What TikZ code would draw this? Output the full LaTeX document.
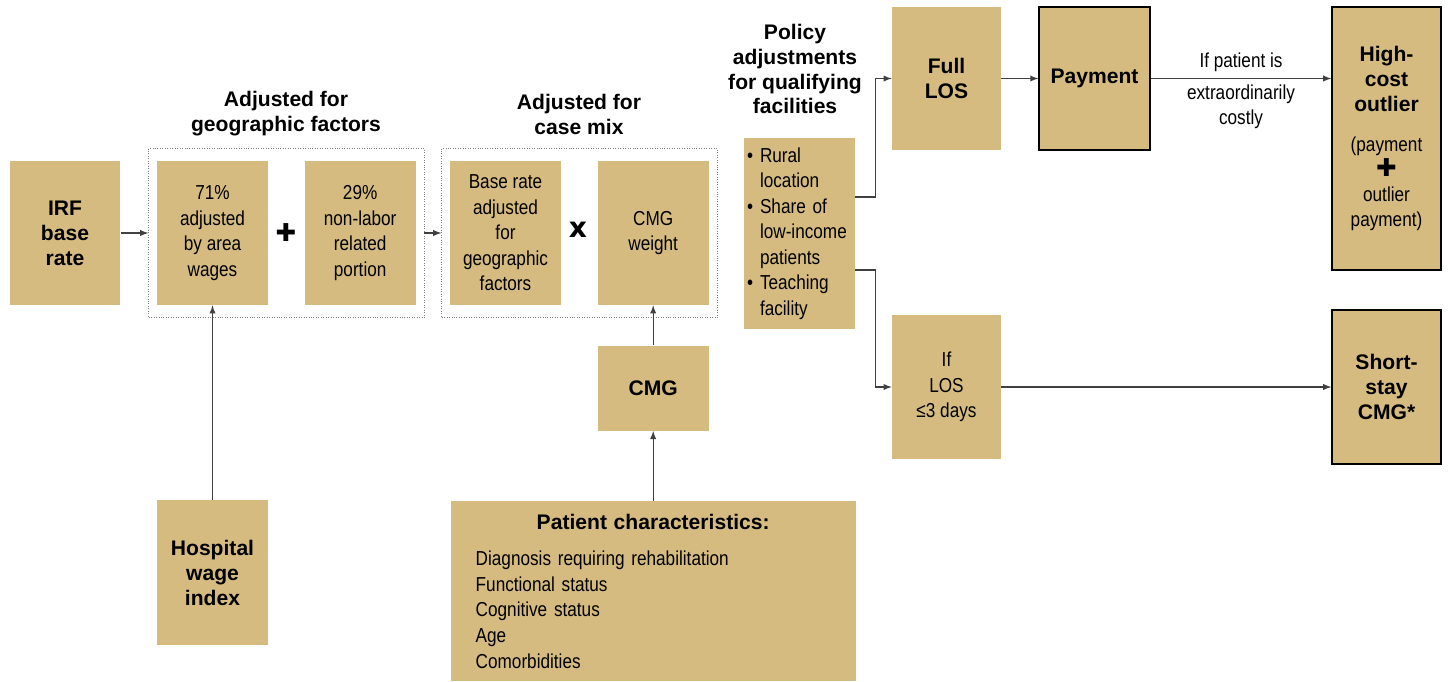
\documentclass[tikz,border=0pt]{standalone}
\usepackage{fontspec}
\setmainfont{Liberation Sans}
\newfontfamily\narrowfont{Liberation Sans}[FakeStretch=0.85]
\newfontfamily\symfont{DejaVu Sans}
\usetikzlibrary{positioning,fit,arrows.meta}

\definecolor{boxtan}{HTML}{D5BB80}
\definecolor{linegray}{HTML}{404040}

\newcommand{\itm}{\makebox[0.26cm][l]{\textbullet}}
\newcommand{\ind}{\hspace*{0.26cm}}

\tikzset{
  box/.style={fill=boxtan, minimum width=2.22cm, minimum height=2.88cm, inner sep=0pt,
    align=center, font=\narrowfont\fontsize{11.5}{14.5}\selectfont},
  boldbox/.style={box, font=\fontsize{12}{14.2}\selectfont\bfseries},
  edged/.style={draw=black, line width=0.8pt},
  frame/.style={draw=gray, densely dotted, inner xsep=0.16cm, inner ysep=0.25cm},
  heading/.style={align=center, font=\fontsize{12}{14.2}\selectfont\bfseries},
  arrow/.style={->, draw=linegray, line width=0.6pt},
  lbl/.style={align=center, font=\narrowfont\fontsize{11.5}{14.3}\selectfont},
}

\begin{document}
\begin{tikzpicture}[>=latex, x=0.02cm, y=-0.02cm]
    \useasboundingbox (0,0) rectangle (1450,681);

    % Base rate and geographic adjustment
    \node [boldbox] (irf) at (65,233) {IRF\\base\\rate};
    \node [box] (w71) at (212.5,233) {71\%\\adjusted\\by area\\wages};
    \node [box, right=0.72cm of w71] (w29) {29\%\\non-labor\\related\\portion};
    \node [font=\symfont\fontsize{14}{14}\selectfont] (plus) at (286,233) {✚};
    \node [frame, fit=(w71)(w29)] (geo) {};
    \node [heading] (geotitle) at (286,114) {Adjusted for\\geographic factors};
    \node [boldbox, minimum height=2.9cm] (hwi) at (212.5,572.5) {Hospital\\wage\\index};

    % Case mix
    \node [box] (base) at (505.5,233) {Base rate\\adjusted\\for\\geographic\\factors};
    \node [box, right=0.72cm of base] (cmgw) {CMG\\weight};
    \node [font=\symfont\fontsize{16}{16}\selectfont\bfseries] (times) at (578,230) {x};
    \node [frame, fit=(base)(cmgw)] (mix) {};
    \node [heading] (mixtitle) at (579,114) {Adjusted for\\case mix};
    \node [boldbox, minimum height=1.7cm, below=0.8cm of cmgw] (cmg) {CMG};
    \node [box, minimum width=8.1cm, minimum height=3.6cm, text width=7.1cm, align=left,
           font=\narrowfont\fontsize{11.5}{14.6}\selectfont, below=1.4cm of cmg] (pat)
          {{\centering\normalfont\bfseries\fontsize{12}{14.2}\selectfont Patient characteristics:\par}\vspace{0.2cm}
           Diagnosis requiring rehabilitation\\Functional status\\Cognitive status\\Age\\Comorbidities};

    % Policy adjustments
    \node [heading] (poltitle) at (795,69) {Policy\\adjustments\\for qualifying\\facilities};
    \node [box, minimum height=3.82cm, text width=2.1cm, align=left] (pol) at (799.5,233.5)
          {\itm Rural\\\ind location\\\itm Share of\\\ind low-income\\\ind patients\\\itm Teaching\\\ind facility};

    % Outcomes
    \node [boldbox, minimum width=2.18cm, minimum height=2.86cm] (full) at (946.5,78.5) {Full\\LOS};
    \node [boldbox, edged, minimum height=2.86cm, right=0.74cm of full] (pay) {Payment};
    \node [boldbox, edged, minimum width=2.18cm, minimum height=5.26cm] (hco) at (1386.5,138.5)
          {High-\\cost\\outlier\\[0.3cm]{\narrowfont\mdseries\fontsize{11.5}{14.3}\selectfont (payment}\\
           {\symfont\mdseries\fontsize{14}{14}\selectfont ✚}\\{\narrowfont\mdseries\fontsize{11.5}{14.3}\selectfont outlier}\\
           {\narrowfont\mdseries\fontsize{11.5}{14.3}\selectfont payment)}};
    \node [box, minimum width=2.18cm] (los) at (946.5,387) {If\\LOS\\≤3 days};
    \node [boldbox, edged, minimum width=2.18cm, minimum height=3.08cm] (ssc) at (1386.5,387) {Short-\\stay\\CMG*};

    % Connectors
    \draw [arrow] (irf.east) -- (geo.west);
    \draw [arrow] (geo.east) -- (mix.west);
    \draw [arrow] (hwi) -- (w71);
    \draw [arrow] (cmg) -- (cmgw);
    \draw [arrow] (pat) -- (cmg);
    \draw [arrow] ([yshift=0.73cm]pol.east) -- ++(20,0) |- (full.west);
    \draw [arrow] ([yshift=-0.73cm]pol.east) -- ++(20,0) |- (los.west);
    \draw [arrow] (full) -- (pay);
    \draw [arrow] (pay.east) -- node [lbl, above] {If patient is}
          node [lbl, below] {extraordinarily\\costly} (pay.east -| hco.west);
    \draw [arrow] (los) -- (ssc);
\end{tikzpicture}
\end{document}
